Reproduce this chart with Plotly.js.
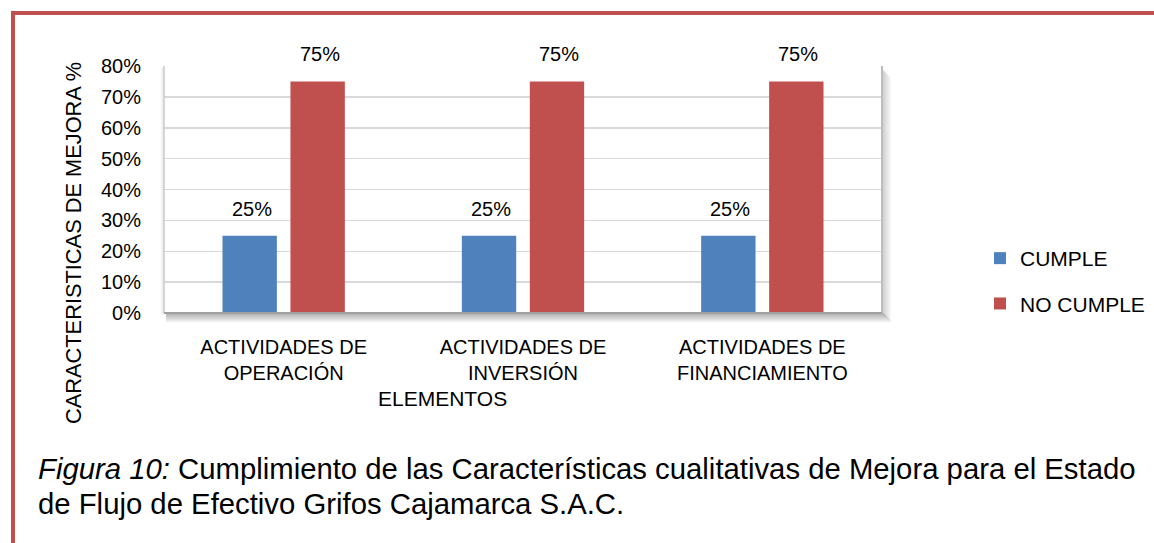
<!DOCTYPE html>
<html>
<head>
<meta charset="utf-8">
<script src="https://cdn.plot.ly/plotly-3.0.1.min.js"></script>
<style>
  html, body { margin: 0; padding: 0; background: #ffffff; }
  #chart { width: 1154px; height: 543px; }
</style>
</head>
<body>
<div id="chart"></div>
<script>
// ---- data ----
const categories = ['ACTIVIDADES DE<br>OPERACIÓN', 'ACTIVIDADES DE<br>INVERSIÓN', 'ACTIVIDADES DE<br>FINANCIAMIENTO'];
const seriesNames = ['CUMPLE', 'NO CUMPLE'];
const cumple = [0.25, 0.25, 0.25];
const noCumple = [0.75, 0.75, 0.75];
const yTickVals = [0, 0.1, 0.2, 0.3, 0.4, 0.5, 0.6, 0.7, 0.8];
const yTickText = ['0%', '10%', '20%', '30%', '40%', '50%', '60%', '70%', '80%'];
const yTitle = 'CARACTERISTICAS DE MEJORA %';
const xTitle = 'ELEMENTOS';
const captionLine1 = '<i>Figura 10:</i> Cumplimiento de las Características cualitativas de Mejora para el Estado';
const captionLine2 = 'de Flujo de Efectivo Grifos Cajamarca S.A.C.';

// ---- layout geometry ----
const W = 1154, H = 543;
const M = { l: 164, r: 272, t: 66, b: 230 };
const PW = W - M.l - M.r, PH = H - M.t - M.b;
const fx = px => (px - M.l) / PW;
const fy = py => (H - M.b - py) / PH;
const FONT = 'Liberation Sans, Arial, Helvetica, sans-serif';
const BLUE = '#4f81bd', RED = '#c0504d';
const bargap = 0.432, bargroupgap = 0.2;
const slot = (PW / categories.length) * (1 - bargap) / 2;

const traces = [
  { type: 'bar', name: seriesNames[0], x: categories, y: cumple, marker: { color: BLUE },
    legendgroup: 'a', hoverinfo: 'none' },
  { type: 'bar', name: seriesNames[1], x: categories, y: noCumple, marker: { color: RED },
    legendgroup: 'b', hoverinfo: 'none' }
];

const annotations = [];
[cumple, noCumple].forEach((vals, si) => {
  vals.forEach((v, i) => {
    annotations.push({
      x: categories[i], y: v, xref: 'x', yref: 'y',
      text: Math.round(v * 100) + '%', showarrow: false,
      xanchor: 'center', yanchor: 'bottom',
      xshift: (si === 0 ? -1 : 1) * slot / 2 + 2, yshift: 14,
      font: { family: FONT, size: 20, color: '#000' }
    });
  });
});
annotations.push({
  xref: 'paper', yref: 'paper', x: fx(73), y: fy(243), text: yTitle, textangle: -90,
  showarrow: false, xanchor: 'center', yanchor: 'middle',
  font: { family: FONT, size: 21.8, color: '#000' }
});
annotations.push({
  xref: 'paper', yref: 'paper', x: fx(442), y: fy(398), text: xTitle,
  showarrow: false, xanchor: 'center', yanchor: 'middle',
  font: { family: FONT, size: 21, color: '#000' }
});
annotations.push({
  xref: 'paper', yref: 'paper', x: fx(36), y: fy(468), text: captionLine1,
  showarrow: false, xanchor: 'left', yanchor: 'middle',
  font: { family: FONT, size: 29.3, color: '#000' }
});
annotations.push({
  xref: 'paper', yref: 'paper', x: fx(36), y: fy(503), text: captionLine2,
  showarrow: false, xanchor: 'left', yanchor: 'middle',
  font: { family: FONT, size: 29.3, color: '#000' }
});

const shapes = [];
function rectPx(x0, y0, x1, y1, color) {
  shapes.push({ type: 'rect', xref: 'paper', yref: 'paper', layer: 'below',
    x0: fx(x0), x1: fx(x1), y0: fy(y0), y1: fy(y1), fillcolor: color, line: { width: 0 } });
}
function linePx(x0, y0, x1, y1, color, w, layer) {
  shapes.push({ type: 'line', xref: 'paper', yref: 'paper', layer: layer || 'above',
    x0: fx(x0), x1: fx(x1), y0: fy(y0), y1: fy(y1), line: { color: color, width: w } });
}
// page border (red)
rectPx(11, 11, W, 15, RED);
rectPx(11, 11, 15, H, RED);
// drop shadow below and right of plot frame
for (let i = 0; i < 9; i++) {
  const a = 0.32 * (1 - i / 9);
  linePx(M.l + 2, H - M.b + 1 + i, W - M.r + 2 + i, H - M.b + 1 + i, 'rgba(0,0,0,' + a.toFixed(3) + ')', 1, 'below');
  linePx(W - M.r + 1 + i, M.t + 4 + i, W - M.r + 1 + i, H - M.b + 1 + i, 'rgba(0,0,0,' + (a * 0.6).toFixed(3) + ')', 1, 'below');
}
for (let i = 0; i < 3; i++) {
  linePx(M.l - 1 - i, M.t + 2, M.l - 1 - i, H - M.b + 2, 'rgba(0,0,0,' + (0.08 * (1 - i / 3)).toFixed(3) + ')', 1, 'below');
}
// plot frame
linePx(M.l, M.t, M.l, H - M.b, '#c8c8c8', 1.5);
linePx(W - M.r, M.t, W - M.r, H - M.b, '#bdbdbd', 2);
linePx(M.l, H - M.b, W - M.r, H - M.b, '#a0a0a0', 2);

const layout = {
  width: W, height: H,
  margin: { l: M.l, r: M.r, t: M.t, b: M.b, pad: 0, autoexpand: false },
  paper_bgcolor: '#ffffff', plot_bgcolor: '#ffffff',
  font: { family: FONT, color: '#000' },
  barmode: 'group', bargap: bargap, bargroupgap: bargroupgap,
  showlegend: true,
  legend: {
    x: fx(980), y: fy(238), xanchor: 'left', yanchor: 'top',
    orientation: 'v', traceorder: 'grouped', tracegroupgap: 15,
    font: { family: FONT, size: 21, color: '#000' },
    bgcolor: 'rgba(0,0,0,0)'
  },
  xaxis: {
    type: 'category', showgrid: false, zeroline: false, showline: false, ticks: '',
    tickfont: { family: FONT, size: 20, color: '#000' }, ticklabelstandoff: 20,
    fixedrange: true
  },
  yaxis: {
    range: [0, 0.8], tickvals: yTickVals, ticktext: yTickText,
    showgrid: true, gridcolor: '#d9d9d9', gridwidth: 1.5,
    zeroline: false, showline: false, ticks: '',
    tickfont: { family: FONT, size: 20, color: '#000' }, ticklabelstandoff: 22,
    fixedrange: true
  },
  annotations: annotations,
  shapes: shapes
};

Plotly.newPlot('chart', traces, layout, { displayModeBar: false, staticPlot: true });
</script>
</body>
</html>
